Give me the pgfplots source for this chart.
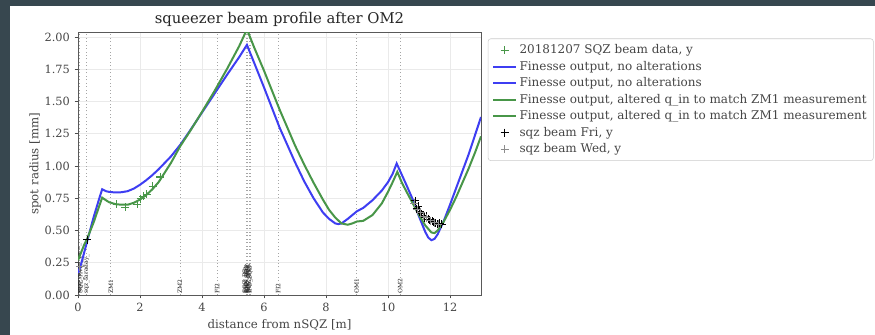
\documentclass[border=0pt]{standalone}
\usepackage{pgfplots}
\pgfplotsset{compat=1.18}
\usepackage{fontspec}
\setmainfont{DejaVu Serif}
\definecolor{frame}{RGB}{55,71,79}
\definecolor{bcurve}{RGB}{62,62,242}
\definecolor{gcurve}{RGB}{72,150,72}
\definecolor{gridc}{RGB}{234,234,234}
\definecolor{vline}{RGB}{165,165,165}
\definecolor{txt}{RGB}{70,70,70}
\begin{document}
\begin{tikzpicture}
\useasboundingbox (0,0) rectangle (656.25pt,251.25pt);
\clip (0,0) rectangle (656.25pt,251.25pt);
\fill[frame] (0,0) rectangle (656.25pt,251.25pt);
\fill[white] (7.5pt,0) rectangle (656.25pt,246.75pt);
\begin{axis}[
  at={(58.5pt,30pt)}, anchor=south west,
  scale only axis, width=302.25pt, height=196.9pt,
  xmin=0, xmax=13, ymin=0, ymax=2.036,
  xtick={0,2,...,12}, ytick={0,0.25,...,2},
  yticklabel style={/pgf/number format/.cd, fixed, fixed zerofill, precision=2},
  /pgf/number format/assume math mode=true,
  tick label style={font=\fontsize{8.5}{10}\selectfont, text=txt},
  tick align=outside, xtick pos=bottom, ytick pos=left,
  major tick length=2.6pt, tick style={black!70, line width=0.5pt},
  grid=major, major grid style={gridc, line width=0.5pt},
  axis line style={black!65, line width=0.6pt},
  title={squeezer beam profile after OM2},
  title style={font=\fontsize{11.1}{13}\selectfont, text=black!85, at={(0.5,1)}, anchor=south, yshift=-5pt},
  xlabel={distance from nSQZ [m]},
  ylabel={spot radius [mm]},
  label style={font=\fontsize{8.85}{10}\selectfont, text=txt},
  xlabel style={at={(0.5,0)}, anchor=center, yshift=-22.5pt},
  ylabel style={at={(-0.1067,0.5)}, anchor=center},
  legend style={at={(1.017,0.977)}, anchor=north west, draw=black!20, rounded corners=2pt,
    font=\fontsize{9}{10}\selectfont, text=txt, row sep=0pt, inner xsep=3pt, inner ysep=2.5pt},
  legend cell align=left,
  clip=true,
]
% vertical element lines
\pgfplotsinvokeforeach{0.03,0.06,0.26,1.06,3.29,4.49,5.42,5.45,5.48,5.52,5.55,6.46,8.99,10.39}{
  \addplot[vline, dotted, line width=0.6pt, forget plot] coordinates {(#1,0) (#1,2.1)};
}
% element labels
\begin{scope}[every node/.style={font=\fontsize{4.5}{5}\selectfont, rotate=90, anchor=west, inner sep=0.3pt, text=black!85}]
\node at (axis cs:0.01,0.005) {SQZ\_OPO\_OUT\_};
\node at (axis cs:0.05,0.005) {sqz\_VIEW\_VP};
\node at (axis cs:0.09,0.005) {SQZ\_HWP\_1};
\node at (axis cs:0.27,0.005) {sqz\_faraday\_};
\node at (axis cs:1.06,0.005) {ZM1};
\node at (axis cs:3.29,0.005) {ZM2};
\node at (axis cs:4.49,0.005) {FI2};
\node at (axis cs:5.40,0.005) {SQZ\_BS};
\node at (axis cs:5.43,0.005) {SRM\_AR};
\node at (axis cs:5.46,0.005) {SR2\_SQZ};
\node at (axis cs:5.49,0.005) {SRC\_SQZ};
\node at (axis cs:5.52,0.005) {SQZ\_SR3};
\node at (axis cs:5.55,0.005) {IFO\_SQZ};
\node at (axis cs:6.46,0.005) {FI2};
\node at (axis cs:8.99,0.005) {OM1};
\node at (axis cs:10.39,0.005) {OM2};
\end{scope}
% green data
\addplot[only marks, mark=+, mark size=3pt, gcurve, mark options={line width=0.8pt}] coordinates {
(1.25,0.705) (1.52,0.68) (1.91,0.705) (2.02,0.745) (2.11,0.765) (2.21,0.78) (2.41,0.845) (2.65,0.915)
};
% blue curve
\addplot[bcurve, line width=1.5pt] coordinates {
(0.0,0.17) (0.1,0.24) (0.2,0.33) (0.3,0.42) (0.4,0.51) (0.5,0.60) (0.6,0.68) (0.7,0.76) (0.78,0.82)
(0.9,0.805) (1.0,0.80) (1.2,0.795) (1.4,0.797) (1.6,0.805) (1.8,0.825) (2.0,0.855) (2.2,0.89)
(2.4,0.93) (2.6,0.975) (2.8,1.025) (3.0,1.075) (3.3,1.165) (3.6,1.27) (4.0,1.415) (4.4,1.56)
(4.8,1.705) (5.2,1.845) (5.45,1.94) (5.7,1.79) (6.0,1.61) (6.5,1.30) (7.0,1.03) (7.3,0.88)
(7.6,0.75) (7.9,0.64) (8.1,0.59) (8.3,0.555) (8.4,0.55) (8.5,0.555) (8.7,0.59) (8.9,0.63)
(9.0,0.65) (9.2,0.675) (9.5,0.735) (9.8,0.81) (10.0,0.875) (10.15,0.94) (10.28,1.02)
(10.45,0.93) (10.6,0.85) (10.8,0.74) (11.0,0.61) (11.2,0.49) (11.3,0.445) (11.4,0.425)
(11.5,0.435) (11.6,0.47) (11.8,0.575) (12.0,0.70) (12.2,0.83) (12.4,0.96) (12.6,1.09)
(12.8,1.235) (13.0,1.38)
};
\addlegendimage{bcurve, line width=1.5pt}
% green curve
\addplot[gcurve, line width=1.5pt] coordinates {
(0.0,0.27) (0.1,0.33) (0.2,0.39) (0.3,0.44) (0.4,0.50) (0.5,0.56) (0.6,0.63) (0.7,0.70) (0.78,0.755)
(0.9,0.735) (1.0,0.72) (1.2,0.705) (1.4,0.70) (1.6,0.70) (1.8,0.715) (2.0,0.74) (2.2,0.775)
(2.4,0.82) (2.6,0.875) (2.8,0.95) (3.0,1.025) (3.3,1.155) (3.6,1.265) (4.0,1.42) (4.4,1.58)
(4.8,1.75) (5.2,1.93) (5.45,2.06) (5.7,1.91) (6.0,1.74) (6.5,1.44) (7.0,1.16) (7.3,1.01)
(7.6,0.87) (7.9,0.74) (8.1,0.66) (8.3,0.60) (8.5,0.555) (8.7,0.545) (8.85,0.555) (9.0,0.57)
(9.2,0.575) (9.5,0.62) (9.8,0.71) (10.0,0.80) (10.15,0.875) (10.3,0.955) (10.45,0.87)
(10.6,0.80) (10.8,0.71) (11.0,0.62) (11.2,0.54) (11.4,0.485) (11.5,0.48) (11.6,0.50)
(11.8,0.57) (12.0,0.66) (12.2,0.76) (12.4,0.87) (12.6,0.98) (12.8,1.10) (13.0,1.23)
};
\addlegendimage{gcurve, line width=1.5pt}
% Fri data
\addplot[only marks, mark=+, mark size=3pt, black, mark options={line width=0.6pt}] coordinates {
(0.30,0.43) (10.87,0.73) (10.92,0.67) (10.97,0.69) (11.02,0.65) (11.08,0.63) (11.13,0.62) (11.18,0.60)
(11.23,0.61) (11.29,0.59) (11.35,0.58) (11.42,0.57) (11.48,0.565) (11.54,0.56) (11.60,0.55) (11.67,0.555) (11.73,0.55)
};
% Wed data
\addplot[only marks, mark=+, mark size=3pt, black!45, mark options={line width=0.6pt}] coordinates {
(0.06,0.22) (10.85,0.71) (10.95,0.66) (11.05,0.64) (11.15,0.61) (11.25,0.60) (11.38,0.575) (11.5,0.56) (11.62,0.55)
};
\legend{{20181207 SQZ beam data, y}, {Finesse output, no alterations}, {Finesse output, no alterations},
 {Finesse output, altered q\_in to match ZM1 measurement}, {Finesse output, altered q\_in to match ZM1 measurement},
 {sqz beam Fri, y}, {sqz beam Wed, y}}
\end{axis}
\end{tikzpicture}
\end{document}
